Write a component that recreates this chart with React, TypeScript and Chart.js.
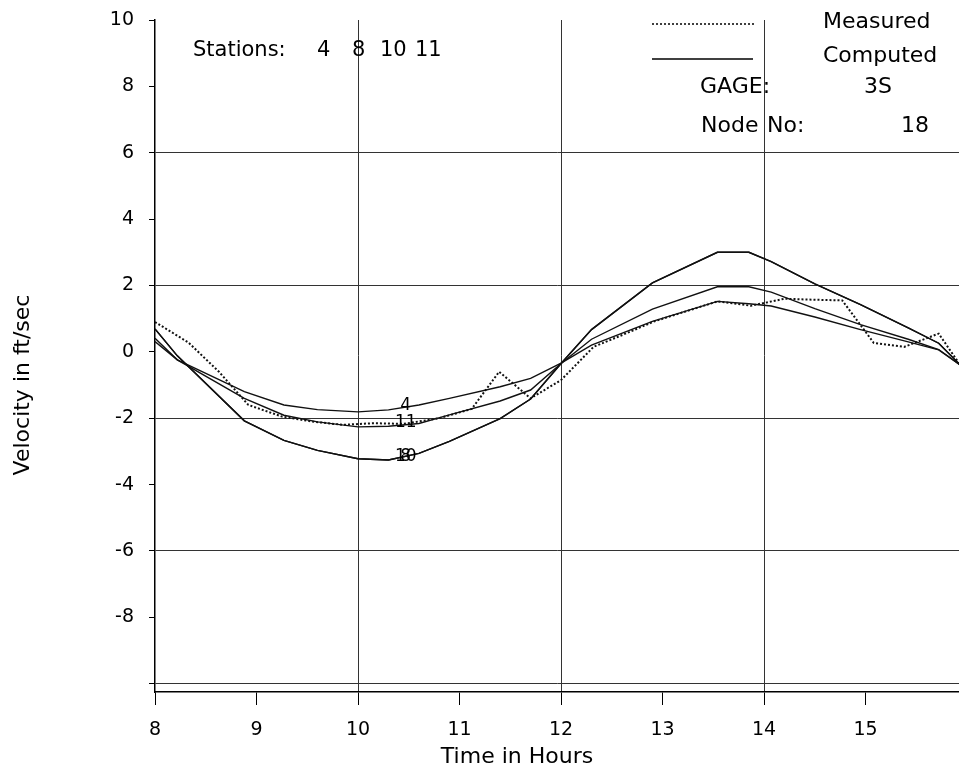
import React, { useEffect, useRef } from "react";
import { Chart, registerables } from "chart.js";

Chart.register(...registerables);

// ---- data ----
const measuredTimes = [8.0, 8.33, 8.63, 8.92, 9.25, 9.55, 9.85, 10.15, 10.45, 10.8, 11.12, 11.39, 11.7, 12.0, 12.32, 12.62, 12.92, 13.23, 13.54, 13.87, 14.2, 14.5, 14.77, 15.08, 15.38, 15.72, 15.93];
const measuredValues = [0.9, 0.28, -0.6, -1.6, -1.95, -2.1, -2.2, -2.15, -2.17, -2.0, -1.72, -0.6, -1.4, -0.85, 0.15, 0.53, 0.92, 1.22, 1.52, 1.39, 1.6, 1.57, 1.55, 0.27, 0.15, 0.55, -0.39];

const computedTimes = [8.0, 8.22, 8.88, 9.27, 9.6, 10.0, 10.3, 10.6, 10.9, 11.4, 11.7, 12.0, 12.3, 12.9, 13.54, 13.85, 14.07, 14.5, 14.95, 15.42, 15.72, 15.93];
const station4Values = [0.31, -0.24, -1.2, -1.6, -1.74, -1.81, -1.75, -1.6, -1.4, -1.05, -0.8, -0.34, 0.2, 0.92, 1.52, 1.45, 1.38, 1.05, 0.67, 0.3, 0.06, -0.39];
const station8Values = [0.69, -0.12, -2.08, -2.67, -2.97, -3.22, -3.26, -3.06, -2.7, -2.01, -1.42, -0.35, 0.67, 2.08, 3.0, 3.0, 2.72, 2.05, 1.42, 0.72, 0.26, -0.39];
const station10Values = [0.69, -0.12, -2.08, -2.67, -2.97, -3.22, -3.26, -3.06, -2.7, -2.01, -1.42, -0.35, 0.67, 2.08, 3.0, 3.0, 2.72, 2.05, 1.42, 0.72, 0.26, -0.39];
const station11Values = [0.41, -0.24, -1.4, -1.91, -2.11, -2.26, -2.24, -2.16, -1.9, -1.48, -1.15, -0.35, 0.38, 1.29, 1.96, 1.96, 1.8, 1.3, 0.82, 0.38, 0.07, -0.39];

const stationNames = ["4", "8", "10", "11"];
const stationLabelTime = 10.47;
const stationLabelValues = [-1.62, -3.17, -3.17, -2.13];

const xTicks = [8, 9, 10, 11, 12, 13, 14, 15];
const xGridValues = [10, 12, 14];
const yTicks = [-10, -8, -6, -4, -2, 0, 2, 4, 6, 8, 10];
const yGridValues = [-10, -6, -2, 2, 6];

const FONT = "'DejaVu Sans', Verdana, sans-serif";

const pts = (xs: number[], ys: number[]) => xs.map((x, i) => ({ x, y: ys[i] }));

const textPlugin = {
  id: "texts",
  afterDraw(chart: any) {
    const ctx = chart.ctx;
    const xs = chart.scales.x;
    const ys = chart.scales.y;
    ctx.save();
    ctx.fillStyle = "#000";
    ctx.strokeStyle = "#000";
    ctx.textBaseline = "middle";
    ctx.textAlign = "left";
    ctx.font = `21px ${FONT}`;
    // header texts
    ctx.fillText("Stations:", 193, 51);
    const stX = [317, 352, 380, 415];
    stationNames.forEach((s, i) => ctx.fillText(s, stX[i], 51));
    // legend
    ctx.lineWidth = 1.5;
    ctx.setLineDash([2, 2]);
    ctx.beginPath();
    ctx.moveTo(652, 24);
    ctx.lineTo(755, 24);
    ctx.stroke();
    ctx.setLineDash([]);
    ctx.lineWidth = 1.3;
    ctx.beginPath();
    ctx.moveTo(652, 59);
    ctx.lineTo(753, 59);
    ctx.stroke();
    ctx.font = `22px ${FONT}`;
    ctx.fillText("Measured", 823, 22);
    ctx.fillText("Computed", 823, 56);
    ctx.fillText("GAGE:", 700, 87);
    ctx.fillText("3S", 864, 87);
    ctx.fillText("Node", 701, 126);
    ctx.fillText("No:", 767, 126);
    ctx.fillText("18", 901, 126);
    // station labels on curves
    ctx.font = `17px ${FONT}`;
    ctx.textAlign = "center";
    stationNames.forEach((s, i) => {
      const px = xs.getPixelForValue(stationLabelTime);
      const py = ys.getPixelForValue(stationLabelValues[i]);
      ctx.fillText(s, px, py);
    });
    // axis titles
    ctx.font = `22px ${FONT}`;
    ctx.fillText("Time in Hours", 517, 757);
    ctx.translate(23, 385);
    ctx.rotate(-Math.PI / 2);
    ctx.fillText("Velocity in ft/sec", 0, 0);
    ctx.restore();
  },
};

export default function App() {
  const ref = useRef<HTMLCanvasElement | null>(null);
  useEffect(() => {
    if (!ref.current) return;
    const lineBase = {
      borderColor: "#111",
      borderWidth: 1.4,
      pointRadius: 0,
      tension: 0,
      fill: false,
    };
    const chart = new Chart(ref.current, {
      type: "line",
      data: {
        datasets: [
          { ...lineBase, label: "Measured", data: pts(measuredTimes, measuredValues), borderDash: [2, 2], borderWidth: 2 },
          { ...lineBase, label: "4", data: pts(computedTimes, station4Values) },
          { ...lineBase, label: "8", data: pts(computedTimes, station8Values) },
          { ...lineBase, label: "10", data: pts(computedTimes, station10Values) },
          { ...lineBase, label: "11", data: pts(computedTimes, station11Values) },
        ],
      },
      options: {
        animation: false,
        responsive: false,
        maintainAspectRatio: false,
        layout: { padding: { top: 20, left: 0, right: 0, bottom: 0 } },
        plugins: { legend: { display: false }, tooltip: { enabled: false }, title: { display: false } },
        scales: {
          x: {
            type: "linear",
            min: 8,
            max: 15.92,
            afterBuildTicks: (s: any) => { s.ticks = xTicks.map((v) => ({ value: v })); },
            afterFit: (s: any) => { s.height = 80; s.paddingLeft = 0; s.paddingRight = 0; },
            ticks: { color: "#000", font: { family: FONT, size: 19 }, padding: 14, maxRotation: 0, autoSkip: false },
            grid: {
              color: (c: any) => (c.tick && xGridValues.includes(c.tick.value) ? "#333" : "rgba(0,0,0,0)"),
              lineWidth: 1,
              tickColor: "#000",
              tickLength: 13,
              drawTicks: true,
            },
            border: { display: true, color: "#000", width: 1.5 },
          },
          y: {
            type: "linear",
            min: -10.25,
            max: 10,
            afterBuildTicks: (s: any) => { s.ticks = yTicks.map((v) => ({ value: v })); },
            afterFit: (s: any) => { s.width = 155; s.paddingTop = 0; s.paddingBottom = 0; },
            ticks: {
              color: "#000",
              font: { family: FONT, size: 19 },
              padding: 15,
              autoSkip: false,
              callback: (v: any) => (v === -10 ? "" : String(v)),
            },
            grid: {
              color: (c: any) => (c.tick && yGridValues.includes(c.tick.value) ? "#333" : "rgba(0,0,0,0)"),
              lineWidth: 1,
              tickColor: "#000",
              tickLength: 6,
              drawTicks: true,
            },
            border: { display: true, color: "#000", width: 1.5 },
          },
        },
      },
      plugins: [textPlugin],
    } as any);
    return () => chart.destroy();
  }, []);
  return (
    <div style={{ position: "absolute", left: 0, top: 0, width: 959, height: 772, background: "#fff" }}>
      <canvas ref={ref} width={959} height={772} style={{ display: "block", width: 959, height: 772 }} />
    </div>
  );
}
